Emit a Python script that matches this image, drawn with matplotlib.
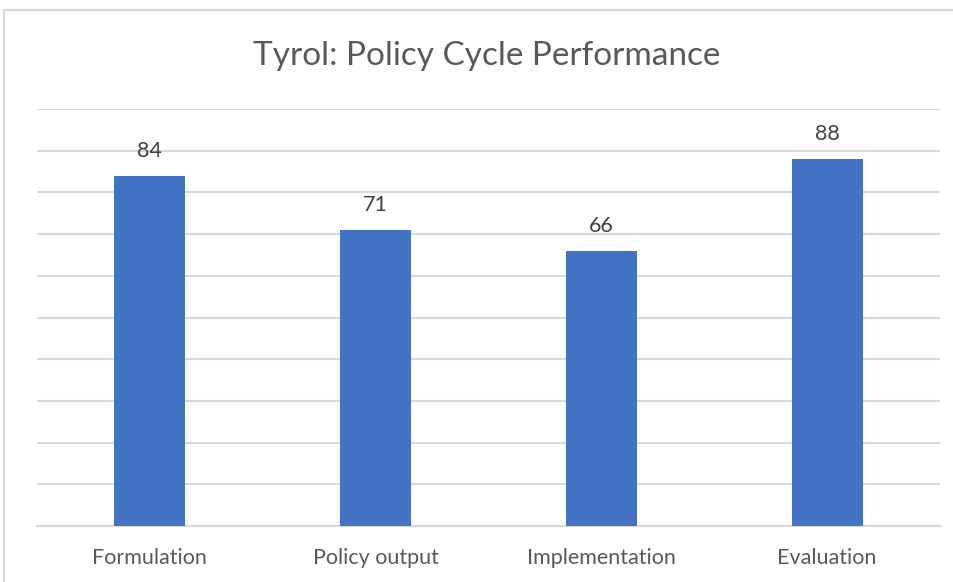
import matplotlib.pyplot as plt
import matplotlib.patches as mpatches
import numpy as np

# --- DATA --- #
categories = ['Formulation', 'Policy output', 'Implementation', 'Evaluation']
scores = [84, 71, 66, 88]
title = 'Tyrol: Policy Cycle Performance'

# --- STYLE --- #
plt.rcParams['font.family'] = ['Lato', 'DejaVu Sans']
BAR_COLOR = '#4472c4'
GRID_COLOR = '#d9d9d9'
TEXT_COLOR = '#595959'

fig = plt.figure(figsize=(9.54, 5.82), dpi=100)
# chart area border (light gray frame)
fig.patches.append(mpatches.Rectangle(
    (4 / 954, -0.01), 1.0, (582 - 10) / 582 + 0.01, transform=fig.transFigure,
    fill=False, edgecolor='#d9d9d9', linewidth=1.5))

ax = fig.add_axes([37 / 954, 56 / 582, 903 / 954, 417 / 582])
x = np.arange(len(categories))
bars = ax.bar(x, scores, width=0.315, color=BAR_COLOR, zorder=3)

# value labels
for xi, v in zip(x, scores):
    ax.text(xi, v + 4.5, str(v), ha='center', va='baseline',
            fontsize=15.5, color='#404040')

ax.set_xlim(-0.5, len(categories) - 0.5)
ax.set_ylim(0, 100)
ax.set_yticks(np.arange(0, 101, 10))
ax.yaxis.grid(True, color=GRID_COLOR, linewidth=1.5, zorder=0)
ax.set_axisbelow(True)
ax.tick_params(axis='y', left=False, labelleft=False)
ax.tick_params(axis='x', bottom=False, pad=12)
ax.set_xticks(x)
ax.set_xticklabels(categories, fontsize=15.5, color=TEXT_COLOR)
for s in ['top', 'right', 'left']:
    ax.spines[s].set_visible(False)
ax.spines['bottom'].set_color(GRID_COLOR)
ax.spines['bottom'].set_linewidth(1.5)

fig.text(487 / 954, 1 - 56 / 582, title, ha='center', va='center',
         fontsize=24, color=TEXT_COLOR)

fig.savefig('out.png', dpi=100, facecolor='white')
